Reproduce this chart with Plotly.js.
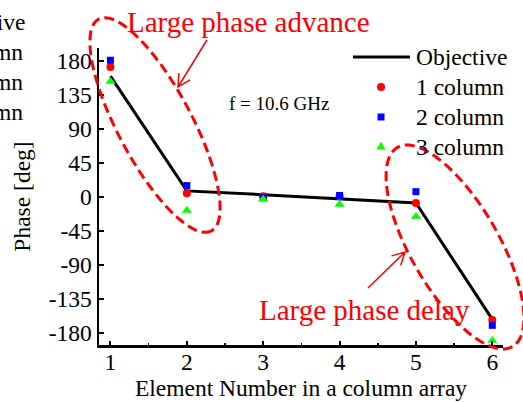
<!DOCTYPE html>
<html>
<head>
<meta charset="utf-8">
<script src="https://cdn.plot.ly/plotly-3.0.1.min.js"></script>
<style>
  html, body { margin: 0; padding: 0; background: #fff; }
  #chart { width: 523px; height: 402px; }
</style>
</head>
<body>
<div id="chart"></div>
<script>
// Element index along one column of the array
const elements = [1, 2, 3, 4, 5, 6];

// Required (objective) phase and the phases obtained with 1, 2 and 3 columns [deg]
const objective = [160, 8, 3, -3, -8, -162];
const oneColumn = [172, 5, 1, 1, -8, -163];
const twoColumn = [181, 15, -1, 2, 7, -170];
const threeColumn = [153, -18, -3, -10, -26, -190];

// Series names and styles (used by the plot and by the key)
const seriesNames = ['Objective', '1 column', '2 column', '3 column'];
const RED = '#ff0000', BLUE = '#0000ff', GREEN = '#00ff00';

// Axis ticks
const yTicks = [-180, -135, -90, -45, 0, 45, 90, 135, 180];
const xTicks = [1, 2, 3, 4, 5, 6];

const FONT = 'Liberation Serif, Times New Roman, serif';
const FS = 23.5;

// Plot frame in page pixels (used to place the drawn callouts and key)
const W = 523, H = 402;
const M = { l: 99, r: 20, t: 48, b: 57 };
const PW = W - M.l - M.r, PH = H - M.t - M.b;
const px = x => (x - M.l) / PW;
const py = y => (M.t + PH - y) / PH;

// Dashed ellipse outline as an SVG path in paper coordinates
function ellipsePath(cx, cy, a, b, angDeg) {
  const t = angDeg * Math.PI / 180;
  const pts = [];
  for (let i = 0; i <= 72; i++) {
    const u = i / 72 * 2 * Math.PI;
    const ex = a * Math.cos(u), ey = b * Math.sin(u);
    const X = cx + ex * Math.cos(t) - ey * Math.sin(t);
    const Y = cy + ex * Math.sin(t) + ey * Math.cos(t);
    pts.push((i ? 'L' : 'M') + px(X).toFixed(4) + ',' + py(Y).toFixed(4));
  }
  return pts.join(' ') + ' Z';
}

// Open arrow (line plus a V head) in paper coordinates
function arrowPath(x0, y0, x1, y1, headLen, headAng) {
  const ang = Math.atan2(y0 - y1, x0 - x1);
  const h = headAng * Math.PI / 180;
  const a1 = [x1 + headLen * Math.cos(ang + h), y1 + headLen * Math.sin(ang + h)];
  const a2 = [x1 + headLen * Math.cos(ang - h), y1 + headLen * Math.sin(ang - h)];
  const P = (x, y) => px(x).toFixed(4) + ',' + py(y).toFixed(4);
  return 'M' + P(x0, y0) + ' L' + P(x1, y1) + ' M' + P(a1[0], a1[1]) + ' L' + P(x1, y1) + ' L' + P(a2[0], a2[1]);
}

const traces = [
  { x: elements, y: objective, name: seriesNames[0], mode: 'lines',
    line: { color: '#000', width: 3 } },
  { x: elements, y: oneColumn, name: seriesNames[1], mode: 'markers',
    marker: { color: RED, size: 8, symbol: 'circle' } },
  { x: elements, y: twoColumn, name: seriesNames[2], mode: 'markers',
    marker: { color: BLUE, size: 7, symbol: 'square' } },
  { x: elements, y: threeColumn, name: seriesNames[3], mode: 'markers',
    marker: { color: GREEN, size: 9, symbol: 'triangle-up' } }
];

const shapes = [
  { type: 'path', xref: 'paper', yref: 'paper', path: ellipsePath(155, 125, 120, 37, 62),
    line: { color: RED, width: 3, dash: '10px,5px' } },
  { type: 'path', xref: 'paper', yref: 'paper', path: ellipsePath(455, 247, 115, 44, 60),
    line: { color: RED, width: 3, dash: '10px,5px' } },
  { type: 'path', xref: 'paper', yref: 'paper', path: arrowPath(207, 40, 178, 87, 14, 28),
    line: { color: RED, width: 1.5 } },
  { type: 'path', xref: 'paper', yref: 'paper', path: arrowPath(368, 288, 405, 252, 14, 28),
    line: { color: RED, width: 1.5 } }
];

const ann = (text, x, y, size, color, xanchor) => ({
  text, xref: 'paper', yref: 'paper', x: px(x), y: py(y), showarrow: false,
  xanchor: xanchor || 'center', yanchor: 'middle',
  font: { family: FONT, size, color: color || '#000' }
});

const annotations = [
  ann('Large phase advance', 248, 22, 29, RED),
  ann('Large phase delay', 364, 310, 29, RED),
  ann('f = 10.6 GHz', 227, 103, 19, '#000', 'left')
];

// Key: a sample line / symbol and the series name on each row
const keyRows = [57, 87, 117, 147];
const keyX = 381;
const pxShape = (type, cx, cy, ext) => Object.assign({
  type, xref: 'paper', yref: 'paper', xsizemode: 'pixel', ysizemode: 'pixel',
  xanchor: px(cx), yanchor: py(cy)
}, ext);
shapes.push(
  pxShape('line', keyX, keyRows[0], { x0: -28, x1: 29, y0: 0, y1: 0, line: { color: '#000', width: 3 } }),
  pxShape('circle', keyX, keyRows[1], { x0: -4, x1: 4, y0: -4, y1: 4, fillcolor: RED, line: { width: 0 } }),
  pxShape('rect', keyX, keyRows[2], { x0: -3.5, x1: 3.5, y0: -3.5, y1: 3.5, fillcolor: BLUE, line: { width: 0 } }),
  pxShape('path', keyX, keyRows[3], { path: 'M-4.5,-2.6 L4.5,-2.6 L0,5.2 Z', fillcolor: GREEN, line: { width: 0 } })
);
seriesNames.forEach((name, i) => {
  annotations.push(ann(name, 414, keyRows[i], FS, '#000', 'left'));
  // the same key repeated, running off the left edge of the page
  annotations.push(ann(name, i === 0 ? 27 : 25, keyRows[i] - 35, FS, '#000', 'right'));
});

const layout = {
  width: W, height: H,
  margin: { l: M.l, r: M.r, t: M.t, b: M.b, autoexpand: false },
  paper_bgcolor: '#fff', plot_bgcolor: '#fff',
  font: { family: FONT, size: FS, color: '#000' },
  showlegend: false,
  xaxis: {
    range: [0.85, 6.14], tickvals: xTicks, ticktext: xTicks.map(String),
    showgrid: false, zeroline: false, showline: true, linecolor: '#000', linewidth: 2.5,
    ticks: 'inside', ticklen: 4, tickwidth: 2, tickcolor: '#000',
    minor: { dtick: 0.5, ticks: 'inside', ticklen: 2, tickwidth: 1.5, tickcolor: '#000' },
    tickfont: { family: FONT, size: FS }, ticklabelstandoff: -6,
    title: { text: 'Element Number in a column array', font: { family: FONT, size: FS }, standoff: 5 }
  },
  yaxis: {
    range: [-196, 197.2], tickvals: yTicks, ticktext: yTicks.map(String),
    showgrid: false, zeroline: false, showline: true, linecolor: '#000', linewidth: 2.5,
    ticks: 'inside', ticklen: 5, tickwidth: 2, tickcolor: '#000',
    tickfont: { family: FONT, size: FS },
    title: { text: 'Phase [deg]', font: { family: FONT, size: FS }, standoff: 12 }
  },
  shapes, annotations
};

Plotly.newPlot('chart', traces, layout, { displayModeBar: false, staticPlot: true });
</script>
</body>
</html>
